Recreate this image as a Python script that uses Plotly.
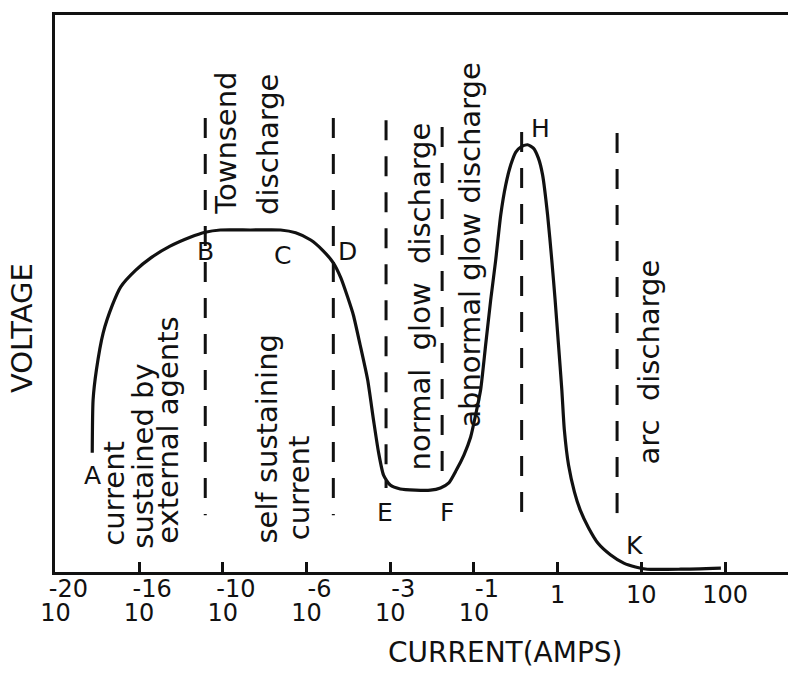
import plotly.graph_objects as go

# ---------------- data ----------------
# x values are positions along the current axis, in tick units (ticks are evenly spaced)
tick_pos = [0, 1, 2, 3, 4, 5, 6, 7, 8]
tick_base = ["10", "10", "10", "10", "10", "10", "", "", ""]
tick_exp = ["-20", "-16", "-10", "-6", "-3", "-1", "", "", ""]
tick_plain = ["", "", "", "", "", "", "1", "10", "100"]

curve_x = [0.44, 0.45, 0.49, 0.57, 0.68, 0.78, 0.96, 1.14, 1.37, 1.61, 1.79, 1.97,
           2.33, 2.69, 2.87, 3.05, 3.19, 3.32, 3.41, 3.49, 3.56, 3.64, 3.73, 3.80,
           3.86, 3.92, 4.00, 4.12, 4.30, 4.48, 4.60, 4.70, 4.79, 4.88, 4.96, 5.02,
           5.08, 5.14, 5.20, 5.26, 5.32, 5.38, 5.44, 5.50, 5.56, 5.64, 5.71, 5.77,
           5.82, 5.88, 5.93, 5.97, 6.01, 6.05, 6.08, 6.13, 6.20, 6.27, 6.37, 6.48,
           6.63, 6.79, 6.93, 7.07, 7.47, 7.95]
curve_v = [0.214, 0.309, 0.363, 0.429, 0.479, 0.512, 0.542, 0.564, 0.585, 0.601, 0.610, 0.614,
           0.614, 0.614, 0.609, 0.596, 0.578, 0.555, 0.528, 0.494, 0.461, 0.408, 0.345, 0.273,
           0.215, 0.174, 0.156, 0.149, 0.147, 0.147, 0.151, 0.160, 0.183, 0.210, 0.242, 0.282,
           0.327, 0.408, 0.488, 0.560, 0.641, 0.695, 0.731, 0.754, 0.763, 0.767, 0.761, 0.743,
           0.713, 0.641, 0.560, 0.488, 0.408, 0.327, 0.255, 0.192, 0.144, 0.111, 0.079, 0.052,
           0.031, 0.016, 0.009, 0.005, 0.005, 0.007]

# region boundaries (dashed lines)
bound_x = [1.79, 3.32, 3.95, 4.62, 5.57, 6.71]
bound_top = [0.815, 0.815, 0.811, 0.799, 0.790, 0.788]
bound_bottom = [0.102, 0.102, 0.151, 0.151, 0.093, 0.088]

# point labels
pt_names = ["A", "B", "C", "D", "E", "F", "H", "K"]
pt_x = [0.44, 1.79, 2.71, 3.49, 3.94, 4.68, 5.80, 6.92]
pt_v = [0.174, 0.575, 0.569, 0.576, 0.106, 0.106, 0.797, 0.048]

# region labels (vertical text, reading upwards; position = centre / lower end)
region_text = ["current", "sustained by", "external agents", "self sustaining", "current",
               "Townsend", "discharge", "normal\u00a0\u00a0glow\u00a0\u00a0discharge",
               "abnormal glow discharge", "arc\u00a0\u00a0discharge"]
region_x = [0.69, 1.05, 1.35, 2.53, 2.92, 2.04, 2.53, 4.35, 4.95, 7.09]
region_v = [0.043, 0.038, 0.047, 0.047, 0.054, 0.637, 0.637, 0.178, 0.255, 0.190]

# ---------------- figure ----------------
INK = "#111111"
FONT = "DejaVu Sans"
XR = [-0.005, 8.752]

fig = go.Figure()

for bx, bt, bb in zip(bound_x, bound_top, bound_bottom):
    fig.add_trace(go.Scatter(x=[bx, bx], y=[bt, bb], mode="lines",
                             line=dict(color=INK, width=3, dash="20px,16px"),
                             hoverinfo="skip"))

fig.add_trace(go.Scatter(x=curve_x, y=curve_v, mode="lines",
                         line=dict(color=INK, width=3.2, shape="spline", smoothing=0.6),
                         hoverinfo="skip"))

# invisible traces so the two label-only overlay axes are drawn
for ax in ["x2", "x3"]:
    fig.add_trace(go.Scatter(x=tick_pos, y=[-1] * len(tick_pos), xaxis=ax, yaxis="y",
                             mode="markers", marker=dict(opacity=0), hoverinfo="skip"))

for name, px, pv in zip(pt_names, pt_x, pt_v):
    fig.add_annotation(x=px, y=pv, xref="x", yref="y", text=name, showarrow=False,
                       font=dict(family=FONT, size=25, color=INK),
                       xanchor="center", yanchor="middle")

for txt, rx, rv in zip(region_text, region_x, region_v):
    fig.add_annotation(x=rx, y=rv, xref="x", yref="y", text=txt, showarrow=False,
                       textangle=-90, font=dict(family=FONT, size=29, color=INK),
                       xanchor="center", yanchor="bottom")

fig.add_annotation(x=0.614, y=-0.144, xref="paper", yref="paper", text="CURRENT(AMPS)",
                   showarrow=False, font=dict(family=FONT, size=28, color=INK),
                   xanchor="center", yanchor="middle")
fig.add_annotation(x=-0.045, y=0.438, xref="paper", yref="paper", text="VOLTAGE",
                   showarrow=False, textangle=-90, font=dict(family=FONT, size=29, color=INK),
                   xanchor="center", yanchor="middle")

tickfont = dict(family=FONT, size=24, color=INK)
fig.update_layout(
    width=788, height=678, margin=dict(l=55, r=0, t=15, b=106),
    plot_bgcolor="white", paper_bgcolor="white", showlegend=False,
    font=dict(family=FONT, color=INK),
    xaxis=dict(range=XR, tickmode="array", tickvals=tick_pos, ticktext=tick_base,
               ticks="inside", ticklen=10, tickwidth=3, tickcolor=INK,
               showline=True, linewidth=3, linecolor=INK, mirror=True,
               showgrid=False, zeroline=False, tickfont=tickfont, ticklabelstandoff=17),
    xaxis2=dict(range=XR, overlaying="x", anchor="free", position=0.0, side="bottom",
                tickmode="array", tickvals=tick_pos, ticktext=tick_exp, ticks="",
                showline=False, showgrid=False, zeroline=False, tickfont=tickfont,
                ticklabelshift=13, ticklabelstandoff=0),
    xaxis3=dict(range=XR, overlaying="x", anchor="free", position=0.0, side="bottom",
                tickmode="array", tickvals=tick_pos, ticktext=tick_plain, ticks="",
                showline=False, showgrid=False, zeroline=False, tickfont=tickfont,
                ticklabelstandoff=6),
    yaxis=dict(range=[0, 1], showticklabels=False, ticks="", showline=True, linewidth=3,
               linecolor=INK, showgrid=False, zeroline=False),
)

fig.write_html("out.html")
